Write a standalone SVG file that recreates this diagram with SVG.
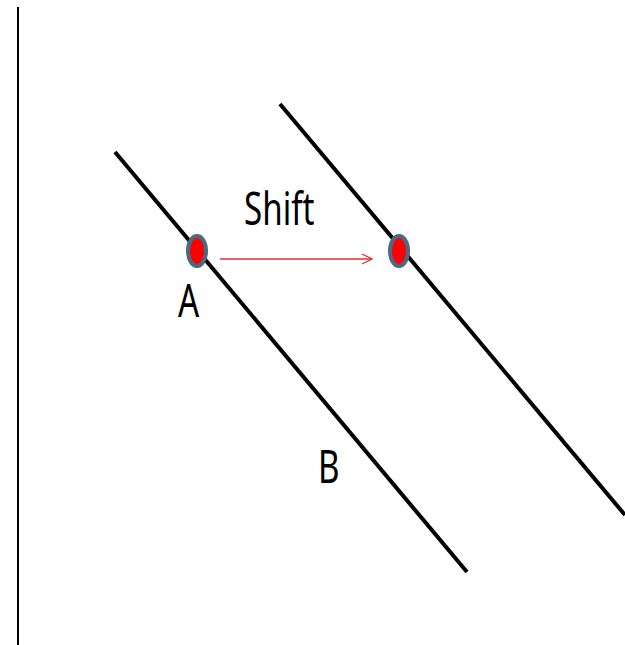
<svg xmlns="http://www.w3.org/2000/svg" width="625" height="645" viewBox="0 0 625 645">
<style>
.ln{stroke:#000;stroke-width:4;fill:none}
.dot{fill:#f00;stroke:#4a6a84;stroke-width:4}
.t{font-family:"Noto Sans","Open Sans",sans-serif;fill:#000;font-size:46px}
</style>
<defs>
<marker id="ah" markerWidth="12" markerHeight="12" refX="11" refY="6" orient="auto" markerUnits="userSpaceOnUse">
<path d="M1,1 L11,6 L1,11" fill="none" stroke="#e03030" stroke-width="1.3"/>
</marker>
</defs>
<rect width="625" height="645" fill="#fff"/>
<g id="axis"><line x1="18" y1="7" x2="18" y2="645" stroke="#000" stroke-width="2"/></g>
<g id="lineB"><line class="ln" x1="115" y1="152" x2="467" y2="572"/></g>
<g id="lineShifted"><line class="ln" x1="280" y1="104" x2="625" y2="515"/></g>
<g id="connectors"><line x1="220" y1="259" x2="372" y2="259" stroke="#e03030" stroke-width="1.5" marker-end="url(#ah)"/></g>
<g id="pointA"><ellipse class="dot" cx="197" cy="251" rx="9" ry="15"/></g>
<g id="pointShifted"><ellipse class="dot" cx="399" cy="251" rx="9" ry="15"/></g>
<g id="labels">
<text class="t" transform="translate(244,225) scale(0.72,1)">Shift</text>
<text class="t" transform="translate(178,317) scale(0.72,1)">A</text>
<text class="t" transform="translate(318,483) scale(0.72,1)">B</text>
</g>
</svg>
